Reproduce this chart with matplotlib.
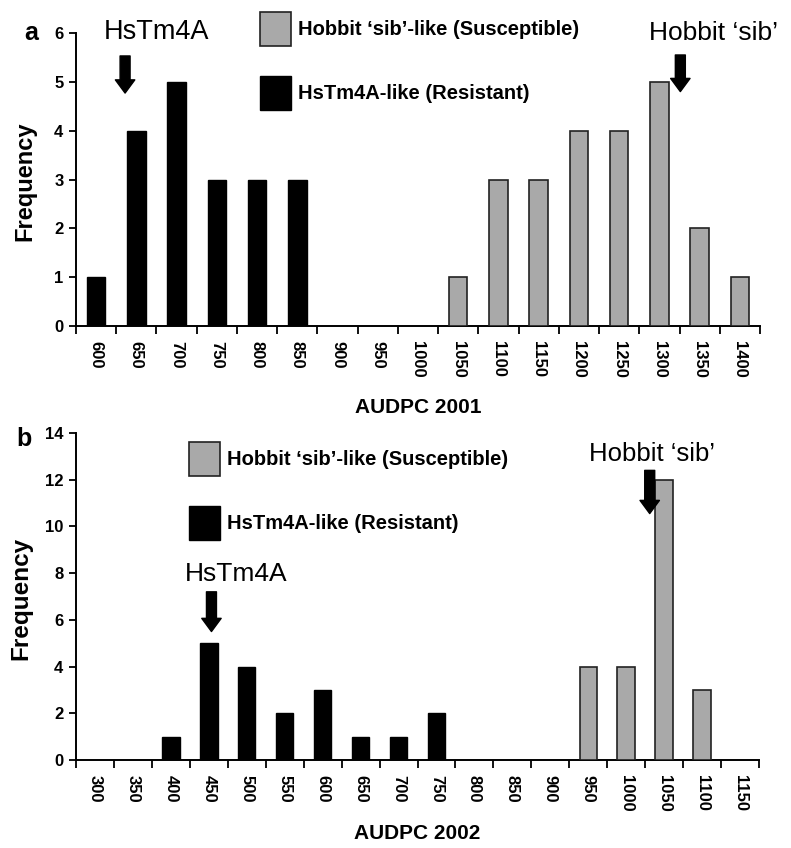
import matplotlib.pyplot as plt
import numpy as np

# Panel a: AUDPC 2001
cats_2001 = [600, 650, 700, 750, 800, 850, 900, 950, 1000, 1050,
             1100, 1150, 1200, 1250, 1300, 1350, 1400]
resist_2001 = [1, 4, 5, 3, 3, 3, 0, 0, 0, 0, 0, 0, 0, 0, 0, 0, 0]
suscep_2001 = [0, 0, 0, 0, 0, 0, 0, 0, 0, 1, 3, 3, 4, 4, 5, 2, 1]

# Panel b: AUDPC 2002
cats_2002 = [300, 350, 400, 450, 500, 550, 600, 650, 700, 750, 800,
             850, 900, 950, 1000, 1050, 1100, 1150]
resist_2002 = [0, 0, 1, 5, 4, 2, 3, 1, 1, 2, 0, 0, 0, 0, 0, 0, 0, 0]
suscep_2002 = [0, 0, 0, 0, 0, 0, 0, 0, 0, 0, 0, 0, 0, 4, 4, 12, 3, 0]

lab_s = "Hobbit \u2018sib\u2019-like (Susceptible)"
lab_r = "HsTm4A-like (Resistant)"

NARROW = ['Liberation Sans Narrow', 'Liberation Sans', 'DejaVu Sans']
SANS = ['Liberation Sans', 'DejaVu Sans']
plt.rcParams['font.family'] = SANS

GRAY = '#a9a9a9'
W, H = 791, 848
fig = plt.figure(figsize=(W / 100, H / 100), dpi=100)


def px(x0, y0, x1, y1):
    return [x0 / W, 1 - y1 / H, (x1 - x0) / W, (y1 - y0) / H]


def panel(rect, cats, resist, suscep, ymax, ystep, xlabel, xlab_y, ylab_x, ylab_size):
    ax = fig.add_axes(rect)
    x = np.arange(len(cats))
    r = np.array(resist, dtype=float)
    s = np.array(suscep, dtype=float)
    ax.bar(x[r > 0], r[r > 0], width=0.46, color='black', edgecolor='black',
           linewidth=1, label=lab_r, zorder=3)
    ax.bar(x[s > 0], s[s > 0], width=0.46, color=GRAY, edgecolor='#222222',
           linewidth=1.2, label=lab_s, zorder=3)
    ax.set_xlim(-0.5, len(cats) - 0.5)
    ax.set_ylim(0, ymax)
    ax.set_yticks(np.arange(0, ymax + 1, ystep))
    ax.set_xticks(x)
    ax.set_xticklabels([str(c) for c in cats], rotation=270, fontsize=12,
                       fontweight='bold', family=NARROW)
    ax.set_xticks(np.arange(-0.5, len(cats), 1), minor=True)
    ax.tick_params(axis='x', which='major', length=0, pad=11)
    ax.tick_params(axis='x', which='minor', length=6, width=1.3, direction='out')
    ax.tick_params(axis='y', length=5, width=1.3, direction='out', pad=4)
    for t in ax.get_yticklabels():
        t.set_fontsize(12)
        t.set_fontweight('bold')
        t.set_family(NARROW)
    for sp in ['top', 'right']:
        ax.spines[sp].set_visible(False)
    for sp in ['left', 'bottom']:
        ax.spines[sp].set_linewidth(1.4)
    ax.set_xlabel(xlabel, fontsize=15, fontweight='bold', family=NARROW)
    ax.xaxis.set_label_coords(0.5, xlab_y)
    ax.set_ylabel('Frequency', fontsize=ylab_size, fontweight='bold')
    ax.yaxis.set_label_coords(ylab_x, 0.495)
    return ax


def arrow(ax, xpos, ytail, ytip):
    ax.annotate('', xy=(xpos, ytip), xytext=(xpos, ytail),
                arrowprops=dict(arrowstyle='simple,head_width=1.4,head_length=0.95,tail_width=0.72',
                                color='black', shrinkA=0, shrinkB=0, mutation_scale=10),
                annotation_clip=False)


def add_legend(ax, x0, y0):
    h, l = ax.get_legend_handles_labels()
    ax.legend(h[::-1], l[::-1], loc='upper left', bbox_to_anchor=(x0 / W, 1 - y0 / H),
              bbox_transform=fig.transFigure, frameon=False,
              prop=dict(size=14.5, weight='bold'),
              handlelength=1.55, handleheight=2.2, handletextpad=0.35,
              labelspacing=1.5, borderpad=0, borderaxespad=0)


# ---- panel a
ax1 = panel(px(76, 33, 760, 326), cats_2001, resist_2001, suscep_2001, 6, 1,
            'AUDPC 2001', -0.245, -0.058, 17)
ax1.text(1.5, 6.02, 'HsTm4A', fontsize=19.5, ha='center', va='center', clip_on=False)
arrow(ax1, 0.72, 5.53, 4.77)
ax1.text(15.35, 6.0, 'Hobbit \u2018sib\u2019', fontsize=19, ha='center', va='center', clip_on=False)
arrow(ax1, 14.52, 5.55, 4.8)
add_legend(ax1, 260, 12)
fig.text(31 / W, 1 - 33 / H, 'a', fontsize=18, fontweight='bold', ha='center', va='center')

# ---- panel b
ax2 = panel(px(76, 433, 759, 760), cats_2002, resist_2002, suscep_2002, 14, 2,
            'AUDPC 2002', -0.195, -0.064, 17.5)
ax2.text(3.71, 7.96, 'HsTm4A', fontsize=19, ha='center', va='center', clip_on=False)
arrow(ax2, 3.07, 7.2, 5.5)
ax2.text(14.67, 13.1, 'Hobbit \u2018sib\u2019', fontsize=18.5, ha='center', va='center', clip_on=False)
arrow(ax2, 14.62, 12.4, 10.55)
add_legend(ax2, 189, 442)
fig.text(24 / W, 1 - 439 / H, 'b', fontsize=18, fontweight='bold', ha='center', va='center')

fig.savefig('out.png', dpi=100)
